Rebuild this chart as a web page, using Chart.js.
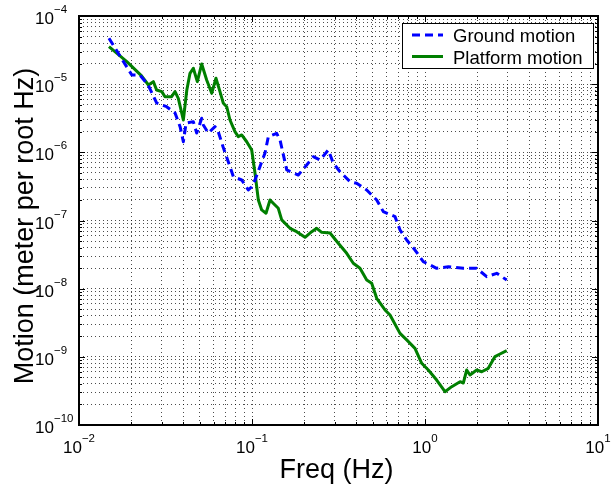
<!DOCTYPE html>
<html lang="en">
<head>
    <meta charset="UTF-8">
    <title>Ground vs Platform motion</title>
    <script src="https://cdn.jsdelivr.net/npm/chart.js"></script>
    <style>
        body {
            margin: 0;
            padding: 0;
            background: #ffffff;
        }
        #wrap {
            width: 616px;
            height: 485px;
        }
    </style>
</head>
<body>
    <div id="wrap">
        <canvas id="chart" width="616" height="485"></canvas>
    </div>

    <script>
        // decades shown on each axis (tick labels are 10^n)
        const xDecades = [-2, -1, 0, 1];
        const yDecades = [-10, -9, -8, -7, -6, -5, -4];

        // Ground motion (blue dashed)
        const groundFreq = [0.0149, 0.0202, 0.0225, 0.0251, 0.0281, 0.0321, 0.0359, 0.0384, 0.0401, 0.0416,
            0.0458, 0.0479, 0.0512, 0.0523, 0.0559, 0.0611, 0.0638, 0.068, 0.0746, 0.078,
            0.0872, 0.0952, 0.0996, 0.1041, 0.1189, 0.1243, 0.1389, 0.1452, 0.1588, 0.1852,
            0.2071, 0.2261, 0.2471, 0.2761, 0.2951, 0.3227, 0.3685, 0.4029, 0.4603, 0.5258,
            0.5741, 0.6709, 0.7171, 0.7839, 0.8753, 0.9776, 1.168, 1.364, 1.665, 1.99,
            2.273, 2.597, 2.967];
        const groundAmp = [4.71e-5, 1.36e-5, 1.36e-5, 9.72e-6, 5.30e-6, 4.67e-6, 3.78e-6, 2.38e-6, 1.43e-6, 2.69e-6,
            2.82e-6, 1.92e-6, 3.16e-6, 2.52e-6, 1.92e-6, 2.38e-6, 2.01e-6, 1.21e-6, 6.16e-7, 4.39e-7,
            3.93e-7, 2.80e-7, 3.13e-7, 3.93e-7, 9.78e-7, 1.70e-6, 1.90e-6, 1.52e-6, 5.51e-7, 4.65e-7,
            6.52e-7, 8.63e-7, 7.72e-7, 1.08e-6, 6.91e-7, 5.20e-7, 3.71e-7, 3.51e-7, 2.80e-7, 2.00e-7,
            1.35e-7, 1.14e-7, 7.26e-8, 5.18e-8, 3.69e-8, 2.49e-8, 1.99e-8, 2.10e-8, 1.99e-8, 1.99e-8,
            1.50e-8, 1.68e-8, 1.34e-8];

        // Platform motion (green solid)
        const platformFreq = [0.0149, 0.0189, 0.0230, 0.0252, 0.0269, 0.0281, 0.0301, 0.0314, 0.0343, 0.0359,
            0.0375, 0.0401, 0.0420, 0.0438, 0.0458, 0.0483, 0.0512, 0.0547, 0.0585, 0.0619,
            0.0653, 0.0683, 0.0714, 0.0746, 0.0797, 0.0833, 0.0872, 0.0932, 0.0996, 0.1041,
            0.1088, 0.1138, 0.1205, 0.1271, 0.1358, 0.1419, 0.1485, 0.1658, 0.1813, 0.2025,
            0.2214, 0.2366, 0.2529, 0.2824, 0.3154, 0.3527, 0.385, 0.421, 0.4603, 0.4919,
            0.5258, 0.5873, 0.6279, 0.7171, 0.7839, 0.8753, 0.957, 1.045, 1.168, 1.305,
            1.427, 1.594, 1.665, 1.742, 1.82, 1.99, 2.127, 2.322, 2.539, 2.713,
            2.967];
        const platformAmp = [3.55e-5, 2.14e-5, 1.32e-5, 9.72e-6, 1.09e-5, 8.21e-6, 7.76e-6, 6.55e-6, 6.55e-6, 7.76e-6,
            6.20e-6, 2.98e-6, 8.21e-6, 1.44e-5, 1.71e-5, 1.09e-5, 1.98e-5, 1.15e-5, 7.35e-6, 1.22e-5,
            7.76e-6, 5.24e-6, 4.67e-6, 2.98e-6, 2.01e-6, 1.70e-6, 1.80e-6, 1.43e-6, 1.08e-6, 4.93e-7,
            2.00e-7, 1.43e-7, 1.28e-7, 2.00e-7, 1.69e-7, 1.51e-7, 1.02e-7, 7.68e-8, 6.85e-8, 5.67e-8,
            6.85e-8, 7.68e-8, 6.71e-8, 6.56e-8, 4.63e-8, 3.30e-8, 2.36e-8, 1.99e-8, 1.34e-8, 1.20e-8,
            7.22e-9, 4.87e-9, 4.11e-9, 2.21e-9, 1.77e-9, 1.33e-9, 8.04e-10, 6.41e-10, 4.57e-10, 3.08e-10,
            3.65e-10, 4.32e-10, 4.13e-10, 6.41e-10, 5.42e-10, 6.41e-10, 6.05e-10, 6.79e-10, 1.01e-9, 1.10e-9,
            1.23e-9];

        const xTitle = "Freq (Hz)";
        const yTitle = "Motion (meter per root Hz)";
        const FONT = '"Liberation Sans", Arial, Helvetica, sans-serif';

        // 1..9 x 10^n for every decade, plus the last decade itself
        function logTicks(decades) {
            const out = [];
            for (let i = 0; i < decades.length - 1; i++) {
                for (let m = 1; m <= 9; m++) {
                    out.push({ value: m * Math.pow(10, decades[i]), major: m === 1 });
                }
            }
            out.push({ value: Math.pow(10, decades[decades.length - 1]), major: true });
            return out;
        }

        function toPoints(xs, ys) {
            return xs.map((x, i) => ({ x: x, y: ys[i] }));
        }

        // draws "10" with a superscript exponent
        function powerLabel(ctx, exp, x, y, align) {
            const base = "10";
            const sup = exp < 0 ? "\u2212" + Math.abs(exp) : String(exp);
            ctx.font = "17px " + FONT;
            const wb = ctx.measureText(base).width;
            ctx.font = "11.5px " + FONT;
            const ws = ctx.measureText(sup).width;
            let left = x;
            if (align === "center") left = x - (wb + ws) / 2;
            ctx.textAlign = "left";
            ctx.textBaseline = "alphabetic";
            ctx.font = "17px " + FONT;
            ctx.fillText(base, left, y);
            ctx.font = "11.5px " + FONT;
            ctx.fillText(sup, left + wb, y - 11);
        }

        const matlabAxes = {
            id: "matlabAxes",
            afterDraw(chart) {
                const ctx = chart.ctx;
                const a = chart.chartArea;
                const xs = chart.scales.x;
                const ys = chart.scales.y;
                ctx.save();
                ctx.fillStyle = "#000";
                ctx.strokeStyle = "#000";

                // inner tick marks on all four sides
                ctx.lineWidth = 1;
                ctx.beginPath();
                xs.ticks.forEach(t => {
                    const px = Math.round(xs.getPixelForValue(t.value)) + 0.5;
                    const len = t.major ? 6 : 3;
                    ctx.moveTo(px, a.bottom); ctx.lineTo(px, a.bottom - len);
                    ctx.moveTo(px, a.top); ctx.lineTo(px, a.top + len);
                });
                ys.ticks.forEach(t => {
                    const py = Math.round(ys.getPixelForValue(t.value)) + 0.5;
                    const len = t.major ? 6 : 3;
                    ctx.moveTo(a.left, py); ctx.lineTo(a.left + len, py);
                    ctx.moveTo(a.right, py); ctx.lineTo(a.right - len, py);
                });
                ctx.stroke();

                // box
                ctx.lineWidth = 2;
                ctx.strokeRect(a.left, a.top, a.right - a.left, a.bottom - a.top);

                // tick labels
                xDecades.forEach(d => {
                    const px = xs.getPixelForValue(Math.pow(10, d));
                    powerLabel(ctx, d, px, a.bottom + 28, "center");
                });
                yDecades.forEach(d => {
                    const py = ys.getPixelForValue(Math.pow(10, d));
                    powerLabel(ctx, d, 35, py + 8, "left");
                });

                // axis titles
                ctx.font = "27px " + FONT;
                ctx.textAlign = "center";
                ctx.textBaseline = "alphabetic";
                ctx.fillText(xTitle, (a.left + a.right) / 2 - 2, 478);
                ctx.save();
                ctx.translate(33, 226);
                ctx.rotate(-Math.PI / 2);
                ctx.fillText(yTitle, 0, 0);
                ctx.restore();

                // legend
                const lx = 402, ly = 23, lw = 191, lh = 45;
                ctx.fillStyle = "#fff";
                ctx.fillRect(lx, ly, lw, lh);
                ctx.lineWidth = 1;
                ctx.strokeStyle = "#000";
                ctx.strokeRect(lx + 0.5, ly + 0.5, lw, lh);
                ctx.font = "18.5px " + FONT;
                ctx.textAlign = "left";
                chart.data.datasets.forEach((ds, i) => {
                    const cy = 35 + i * 21.5;
                    ctx.save();
                    ctx.strokeStyle = ds.borderColor;
                    ctx.lineWidth = ds.borderWidth;
                    ctx.setLineDash(ds.borderDash || []);
                    ctx.beginPath();
                    ctx.moveTo(412, cy);
                    ctx.lineTo(443, cy);
                    ctx.stroke();
                    ctx.restore();
                    ctx.fillStyle = "#000";
                    ctx.fillText(ds.label, 453, cy + 7);
                });
                ctx.restore();
            }
        };

        const gridStyle = {
            color: "rgba(0, 0, 0, 0.7)",
            lineWidth: 1,
            drawTicks: false
        };

        new Chart(document.getElementById("chart").getContext("2d"), {
            type: "line",
            data: {
                datasets: [
                    {
                        label: "Ground motion",
                        data: toPoints(groundFreq, groundAmp),
                        borderColor: "#0000ff",
                        borderWidth: 3,
                        borderDash: [8, 5],
                        borderJoinStyle: "round",
                        pointRadius: 0,
                        tension: 0
                    },
                    {
                        label: "Platform motion",
                        data: toPoints(platformFreq, platformAmp),
                        borderColor: "#007f00",
                        borderWidth: 3,
                        borderJoinStyle: "round",
                        pointRadius: 0,
                        tension: 0
                    }
                ]
            },
            options: {
                responsive: false,
                animation: false,
                devicePixelRatio: 1,
                layout: { padding: { top: 16, right: 18, left: 0, bottom: 0 } },
                plugins: {
                    legend: { display: false },
                    tooltip: { enabled: false }
                },
                scales: {
                    x: {
                        type: "logarithmic",
                        min: Math.pow(10, xDecades[0]),
                        max: Math.pow(10, xDecades[xDecades.length - 1]),
                        grid: gridStyle,
                        border: { display: false, dash: [1, 3] },
                        ticks: { display: false, autoSkip: false },
                        afterBuildTicks: s => { s.ticks = logTicks(xDecades); },
                        afterFit: s => { s.height = 60; }
                    },
                    y: {
                        type: "logarithmic",
                        min: Math.pow(10, yDecades[0]),
                        max: Math.pow(10, yDecades[yDecades.length - 1]),
                        grid: gridStyle,
                        border: { display: false, dash: [1, 3] },
                        ticks: { display: false, autoSkip: false },
                        afterBuildTicks: s => { s.ticks = logTicks(yDecades); },
                        afterFit: s => { s.width = 79; }
                    }
                }
            },
            plugins: [matlabAxes]
        });
    </script>
</body>
</html>
